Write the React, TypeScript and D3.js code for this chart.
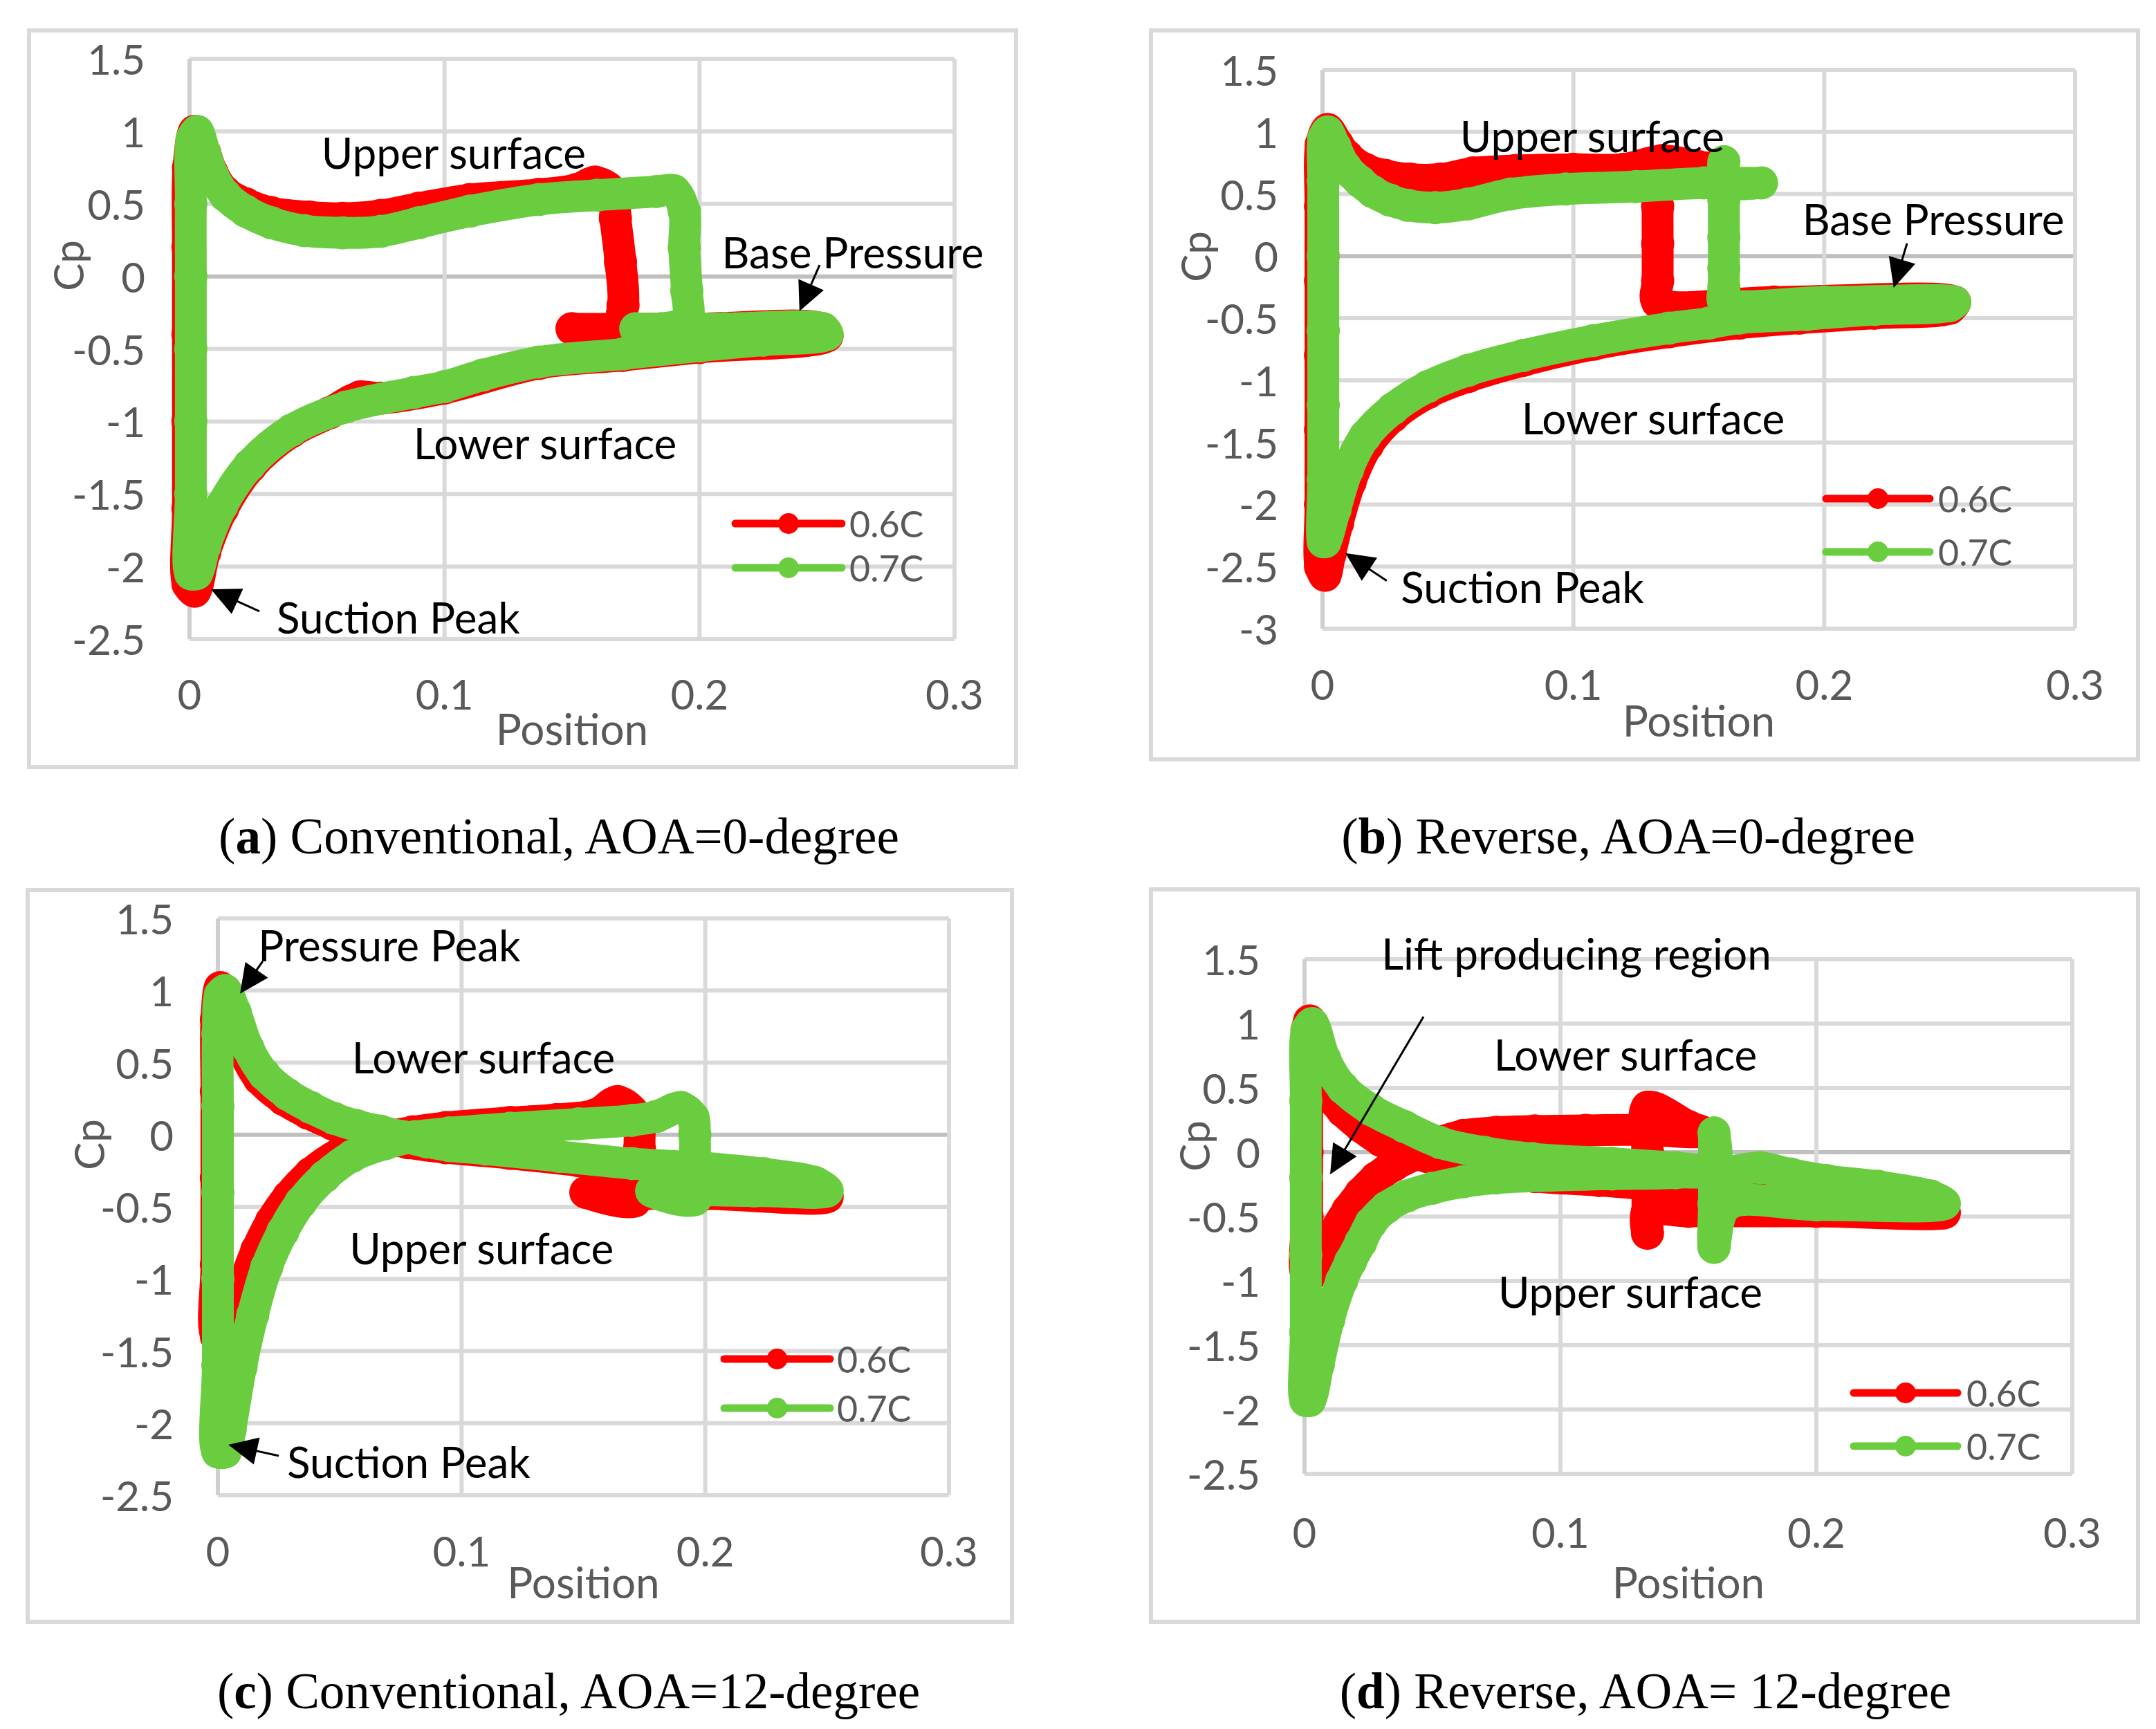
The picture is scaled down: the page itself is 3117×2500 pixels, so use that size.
import React from "react";
import * as d3 from "d3";

type Pt = [number, number];

const xTicks = [0, 0.1, 0.2, 0.3];
const yTicksShort = [1.5, 1, 0.5, 0, -0.5, -1, -1.5, -2, -2.5];
const yTicksLong = [1.5, 1, 0.5, 0, -0.5, -1, -1.5, -2, -2.5, -3];
const seriesNames = ["0.6C", "0.7C"];

// (a) conventional, AOA 0
const redA: Pt[] = [
  [-0.0006, -2.12], [-0.0006, -1.6], [-0.0006, -1.0], [-0.0006, -0.4], [-0.0006, 0.2], [-0.0004, 0.75],
  [0.002, 1.0], [0.006, 0.85], [0.009, 0.71], [0.014, 0.58], [0.022, 0.5], [0.032, 0.44],
  [0.047, 0.41], [0.06, 0.4], [0.075, 0.42], [0.09, 0.47], [0.11, 0.53], [0.137, 0.565],
  [0.152, 0.6], [0.159, 0.65], [0.166, 0.58], [0.167, 0.4], [0.169, 0.1], [0.17, -0.2],
  [0.167, -0.35], [0.15, -0.36], [0.2, -0.36], [0.248, -0.36], [0.25, -0.41], [0.2, -0.49],
  [0.17, -0.545], [0.137, -0.6], [0.1, -0.77], [0.075, -0.84], [0.067, -0.83], [0.055, -0.94],
  [0.04, -1.07], [0.024, -1.31], [0.013, -1.6], [0.006, -1.9], [0.002, -2.17],
];
const greenA: Pt[] = [
  [0.0005, -2.05], [0.0005, -1.5], [0.0005, -1.0], [0.0005, -0.5], [0.0005, 0], [0.0005, 0.5],
  [0.001, 0.95], [0.003, 1.0], [0.006, 0.85], [0.009, 0.7], [0.014, 0.56], [0.022, 0.45],
  [0.032, 0.37], [0.045, 0.315], [0.06, 0.3], [0.075, 0.31], [0.09, 0.37], [0.11, 0.45],
  [0.137, 0.53], [0.16, 0.56], [0.183, 0.585], [0.19, 0.59], [0.194, 0.45], [0.194, 0.2],
  [0.195, -0.1], [0.195, -0.3], [0.185, -0.36], [0.175, -0.36], [0.21, -0.36], [0.2485, -0.36],
  [0.25, -0.4], [0.225, -0.44], [0.2, -0.48], [0.17, -0.535], [0.137, -0.59], [0.115, -0.68],
  [0.1, -0.76], [0.088, -0.8], [0.0615, -0.9], [0.04, -1.06], [0.0236, -1.3], [0.0127, -1.58],
  [0.006, -1.86], [0.0027, -2.05],
];

// (b) reverse, AOA 0
const redB: Pt[] = [
  [-0.0008, -2.5], [-0.0008, -2.0], [-0.0008, -1.4], [-0.0008, -0.8], [-0.0008, -0.2], [-0.0008, 0.4],
  [-0.0005, 0.9], [0.002, 1.02], [0.006, 0.9], [0.01, 0.8], [0.017, 0.7], [0.025, 0.65],
  [0.035, 0.62], [0.047, 0.62], [0.06, 0.67], [0.077, 0.69], [0.1, 0.7], [0.12, 0.7],
  [0.1355, 0.77], [0.15, 0.72], [0.155, 0.71], [0.134, 0.7], [0.1336, 0.4], [0.1336, 0.1],
  [0.1336, -0.2], [0.1336, -0.37], [0.18, -0.37], [0.252, -0.37], [0.25, -0.42], [0.22, -0.46],
  [0.19, -0.5], [0.166, -0.54], [0.138, -0.61], [0.108, -0.71], [0.08, -0.84], [0.058, -0.97],
  [0.042, -1.1], [0.028, -1.29], [0.018, -1.52], [0.011, -1.82], [0.006, -2.15], [0.003, -2.4],
  [0.001, -2.57],
];
const greenB: Pt[] = [
  [0.0003, -2.3], [0.0003, -1.8], [0.0003, -1.2], [0.0003, -0.6], [0.0003, 0], [0.0003, 0.6],
  [0.0005, 0.95], [0.002, 1.0], [0.005, 0.88], [0.009, 0.72], [0.015, 0.6], [0.02, 0.52],
  [0.027, 0.45], [0.034, 0.41], [0.045, 0.39], [0.058, 0.42], [0.075, 0.5], [0.097, 0.54],
  [0.125, 0.56], [0.152, 0.59], [0.175, 0.59], [0.16, 0.6], [0.16, 0.76], [0.16, 0.45],
  [0.16, 0.15], [0.16, -0.1], [0.16, -0.25], [0.16, -0.37], [0.2, -0.37], [0.252, -0.37],
  [0.25, -0.4], [0.22, -0.43], [0.193, -0.47], [0.166, -0.5], [0.154, -0.54], [0.138, -0.58],
  [0.108, -0.68], [0.08, -0.8], [0.058, -0.92], [0.042, -1.05], [0.028, -1.23], [0.017, -1.45],
  [0.01, -1.72], [0.005, -2.04], [0.001, -2.3],
];

// (c) conventional, AOA 12
const redC: Pt[] = [
  [-0.0006, -1.4], [-0.0006, -0.9], [-0.0006, -0.3], [-0.0006, 0.3], [-0.0006, 0.8], [0.001, 1.02],
  [0.0055, 0.82], [0.0105, 0.58], [0.017, 0.39], [0.027, 0.245], [0.037, 0.15], [0.047, 0.075],
  [0.057, 0.02], [0.067, -0.02], [0.078, -0.055], [0.0935, -0.09], [0.12, -0.13], [0.148, -0.18],
  [0.175, -0.23], [0.2, -0.27], [0.224, -0.31], [0.245, -0.37], [0.25, -0.43], [0.2, -0.41],
  [0.16, -0.41], [0.151, -0.4], [0.171, -0.46], [0.173, -0.3], [0.173, -0.1], [0.172, 0.12],
  [0.164, 0.23], [0.155, 0.14], [0.139, 0.106], [0.12, 0.085], [0.0935, 0.05], [0.08, 0.02],
  [0.065, -0.03], [0.05, -0.13], [0.038, -0.27], [0.029, -0.43], [0.022, -0.6], [0.016, -0.8],
  [0.0105, -1.05], [0.0065, -1.3], [0.0035, -1.45],
];
const greenC: Pt[] = [
  [0, -2.2], [0, -1.6], [0, -1.0], [0, -0.4], [0, 0.2], [0, 0.7], [0.001, 0.97], [0.003, 1.0],
  [0.0071, 0.85], [0.0124, 0.6], [0.019, 0.42], [0.0286, 0.28], [0.038, 0.19], [0.0476, 0.114],
  [0.057, 0.063], [0.0667, 0.025], [0.076, -0.013], [0.0857, -0.05], [0.095, -0.076], [0.11, -0.1],
  [0.14, -0.15], [0.17, -0.2], [0.2, -0.23], [0.224, -0.27], [0.245, -0.33], [0.25, -0.39],
  [0.22, -0.39], [0.178, -0.39], [0.1957, -0.45], [0.1957, -0.2], [0.1957, 0.0], [0.195, 0.12],
  [0.19, 0.19], [0.18, 0.127], [0.17, 0.1], [0.148, 0.075], [0.12, 0.045], [0.095, 0.013],
  [0.081, -0.013], [0.0686, -0.063], [0.055, -0.15], [0.0438, -0.29], [0.034, -0.47], [0.0267, -0.67],
  [0.02, -0.92], [0.0143, -1.25], [0.0095, -1.61], [0.005, -2.05], [0.003, -2.2],
];

// (d) reverse, AOA 12
const redD: Pt[] = [
  [0.001, -0.95], [0.001, -0.5], [0.001, 0.0], [0.001, 0.5], [0.001, 0.95], [0.002, 1.02],
  [0.004, 0.85], [0.006, 0.65], [0.0098, 0.45], [0.015, 0.32], [0.022, 0.2], [0.03, 0.09],
  [0.042, 0.0], [0.055, -0.08], [0.07, -0.14], [0.09, -0.19], [0.115, -0.22], [0.134, -0.25],
  [0.16, -0.27], [0.2, -0.3], [0.23, -0.36], [0.25, -0.47], [0.2, -0.46], [0.15, -0.46],
  [0.134, -0.46], [0.134, -0.63], [0.134, -0.3], [0.134, 0.0], [0.134, 0.35], [0.15, 0.2],
  [0.155, 0.16], [0.13, 0.175], [0.11, 0.17], [0.09, 0.165], [0.075, 0.155], [0.062, 0.13],
  [0.052, 0.07], [0.043, -0.02], [0.035, -0.1], [0.028, -0.2], [0.022, -0.32], [0.017, -0.45],
  [0.0115, -0.63], [0.008, -0.78], [0.005, -0.92],
];
const greenD: Pt[] = [
  [0.0005, -1.93], [0.0005, -1.4], [0.0005, -0.8], [0.0005, -0.2], [0.0005, 0.4], [0.001, 0.95],
  [0.003, 1.0], [0.008, 0.72], [0.015, 0.5], [0.026, 0.33], [0.039, 0.2], [0.053, 0.075],
  [0.07, 0.0], [0.089, -0.05], [0.12, -0.086], [0.145, -0.12], [0.165, -0.15], [0.178, -0.12],
  [0.19, -0.17], [0.204, -0.22], [0.224, -0.265], [0.2446, -0.34], [0.25, -0.4], [0.2, -0.41],
  [0.165, -0.41], [0.16, -0.74], [0.16, -0.4], [0.16, -0.1], [0.16, 0.15], [0.16, -0.12],
  [0.145, -0.16], [0.12, -0.17], [0.075, -0.2], [0.062, -0.23], [0.05, -0.28], [0.04, -0.34],
  [0.032, -0.43], [0.026, -0.55], [0.022, -0.7], [0.018, -0.85], [0.0145, -1.0], [0.0095, -1.3],
  [0.0054, -1.65], [0.002, -1.93],
];

const captionLetters = ["a", "b", "c", "d"];
const captionTexts = [
  "Conventional, AOA=0-degree",
  "Reverse, AOA=0-degree",
  "Conventional, AOA=12-degree",
  "Reverse, AOA= 12-degree",
];

type Note = { text: string; at: Pt; anchor: "start" | "middle" };
type Arrow = { from: Pt; to: Pt };

type PanelCfg = {
  frame: [number, number, number, number];
  plot: [number, number, number, number];
  yTicks: number[];
  red: Pt[];
  green: Pt[];
  xLabelY: number;
  posY: number;
  cp: [number, number];
  legend: { x1: number; x2: number; yR: number; yG: number; tx: number };
  caption: { x: number; y: number; letter: string; text: string };
  notes: Note[];
  arrows: Arrow[];
};

const RED = "#ff0000";
const GREEN = "#6acd40";
const GRID = "#d9d9d9";
const AXIS_GRAY = "#595959";
const SANS = "Lato, 'Noto Sans', sans-serif";
const SERIF = "'Liberation Serif', 'DejaVu Serif', serif";
const BAND = 46;

const panels: PanelCfg[] = [
  {
    frame: [42, 44, 1469, 1109],
    plot: [274, 85, 1380, 924],
    yTicks: yTicksShort,
    red: redA,
    green: greenA,
    xLabelY: 1003,
    posY: 1053,
    cp: [98, 384],
    legend: { x1: 1063, x2: 1217, yR: 757, yG: 821, tx: 1228 },
    caption: { x: 808, y: 1234, letter: captionLetters[0], text: captionTexts[0] },
    notes: [
      { text: "Upper surface", at: [0.1036, 0.856], anchor: "middle" },
      { text: "Base Pressure", at: [0.2601, 0.17], anchor: "middle" },
      { text: "Lower surface", at: [0.1394, -1.146], anchor: "middle" },
      { text: "Suction Peak", at: [0.0342, -2.347], anchor: "start" },
    ],
    arrows: [
      { from: [0.2471, 0.079], to: [0.2392, -0.24] },
      { from: [0.0274, -2.309], to: [0.0084, -2.157] },
    ],
  },
  {
    frame: [1664, 44, 3091, 1098],
    plot: [1912, 101, 3000, 909],
    yTicks: yTicksLong,
    red: redB,
    green: greenB,
    xLabelY: 989,
    posY: 1041,
    cp: [1728, 371],
    legend: { x1: 2640, x2: 2790, yR: 721, yG: 798, tx: 2802 },
    caption: { x: 2354, y: 1234, letter: captionLetters[1], text: captionTexts[1] },
    notes: [
      { text: "Upper surface", at: [0.1075, 0.971], anchor: "middle" },
      { text: "Base Pressure", at: [0.2435, 0.303], anchor: "middle" },
      { text: "Lower surface", at: [0.1318, -1.3], anchor: "middle" },
      { text: "Suction Peak", at: [0.0312, -2.659], anchor: "start" },
    ],
    arrows: [
      { from: [0.233, 0.102], to: [0.2277, -0.254] },
      { from: [0.0256, -2.615], to: [0.0091, -2.392] },
    ],
  },
  {
    frame: [40, 1287, 1463, 2345],
    plot: [315, 1328, 1372, 2162],
    yTicks: yTicksShort,
    red: redC,
    green: greenC,
    xLabelY: 2242,
    posY: 2287,
    cp: [128, 1655],
    legend: { x1: 1047, x2: 1200, yR: 1965, yG: 2036, tx: 1210 },
    caption: { x: 822, y: 2470, letter: captionLetters[2], text: captionTexts[2] },
    notes: [
      { text: "Pressure Peak", at: [0.0165, 1.318], anchor: "start" },
      { text: "Lower surface", at: [0.109, 0.541], anchor: "middle" },
      { text: "Upper surface", at: [0.1082, -0.783], anchor: "middle" },
      { text: "Suction Peak", at: [0.0284, -2.265], anchor: "start" },
    ],
    arrows: [
      { from: [0.0184, 1.203], to: [0.0091, 0.978] },
      { from: [0.025, -2.227], to: [0.0043, -2.15] },
    ],
  },
  {
    frame: [1664, 1286, 3091, 2345],
    plot: [1886, 1387, 2996, 2131],
    yTicks: yTicksShort,
    red: redD,
    green: greenD,
    xLabelY: 2215,
    posY: 2287,
    cp: [1726, 1657],
    legend: { x1: 2680, x2: 2830, yR: 2014, yG: 2091, tx: 2843 },
    caption: { x: 2379, y: 2470, letter: captionLetters[3], text: captionTexts[3] },
    notes: [
      { text: "Lift producing region", at: [0.1062, 1.548], anchor: "middle" },
      { text: "Lower surface", at: [0.1254, 0.763], anchor: "middle" },
      { text: "Upper surface", at: [0.1273, -1.08], anchor: "middle" },
    ],
    arrows: [{ from: [0.0465, 1.054], to: [0.01, -0.172] }],
  },
];

function Panel({ cfg }: { cfg: PanelCfg }) {
  const [pl, pt, pr, pb] = cfg.plot;
  const x = d3.scaleLinear().domain([0, 0.3]).range([pl, pr]);
  const y = d3
    .scaleLinear()
    .domain([cfg.yTicks[0], cfg.yTicks[cfg.yTicks.length - 1]])
    .range([pt, pb]);
  const line = d3
    .line<Pt>()
    .x((d) => x(d[0]))
    .y((d) => y(d[1]))
    .curve(d3.curveCatmullRomClosed.alpha(0.5));

  const [fx0, fy0, fx1, fy1] = cfg.frame;
  const lg = cfg.legend;
  const lgMid = (lg.x1 + lg.x2) / 2;

  const drawSeries = (pts: Pt[], color: string) => (
    <g>
      <path
        d={line(pts) || ""}
        fill="none"
        stroke={color}
        strokeWidth={BAND}
        strokeLinejoin="round"
        strokeLinecap="round"
      />
      {pts.map((p, i) => (
        <circle key={i} cx={x(p[0])} cy={y(p[1])} r={BAND / 2 + 1} fill={color} />
      ))}
    </g>
  );

  return (
    <g>
      <rect
        x={fx0}
        y={fy0}
        width={fx1 - fx0}
        height={fy1 - fy0}
        fill="#fff"
        stroke={GRID}
        strokeWidth={6}
      />
      {cfg.yTicks.map((t) => (
        <line
          key={"h" + t}
          x1={pl}
          x2={pr}
          y1={y(t)}
          y2={y(t)}
          stroke={t === 0 ? "#bfbfbf" : GRID}
          strokeWidth={6}
        />
      ))}
      {xTicks.map((t) => (
        <line
          key={"v" + t}
          x1={x(t)}
          x2={x(t)}
          y1={pt}
          y2={pb}
          stroke={t === 0 ? "#cfcfcf" : GRID}
          strokeWidth={6}
        />
      ))}
      {cfg.yTicks.map((t) => (
        <text
          key={"yl" + t}
          x={pl - 64}
          y={y(t)}
          textAnchor="end"
          dominantBaseline="central"
          fontFamily={SANS}
          fontSize={60}
          fill={AXIS_GRAY}
        >
          {String(t)}
        </text>
      ))}
      {xTicks.map((t) => (
        <text
          key={"xl" + t}
          x={x(t)}
          y={cfg.xLabelY}
          textAnchor="middle"
          dominantBaseline="central"
          fontFamily={SANS}
          fontSize={60}
          fill={AXIS_GRAY}
        >
          {String(t)}
        </text>
      ))}
      <text
        x={(pl + pr) / 2}
        y={cfg.posY}
        textAnchor="middle"
        dominantBaseline="central"
        fontFamily={SANS}
        fontSize={62}
        fill={AXIS_GRAY}
      >
        Position
      </text>
      <text
        transform={`translate(${cfg.cp[0]},${cfg.cp[1]}) rotate(-90)`}
        textAnchor="middle"
        dominantBaseline="central"
        fontFamily={SANS}
        fontSize={60}
        fill={AXIS_GRAY}
      >
        Cp
      </text>

      {drawSeries(cfg.red, RED)}
      {drawSeries(cfg.green, GREEN)}

      {cfg.notes.map((n) => (
        <text
          key={n.text}
          x={x(n.at[0])}
          y={y(n.at[1])}
          textAnchor={n.anchor}
          dominantBaseline="central"
          fontFamily={SANS}
          fontSize={62}
          fill="#000"
        >
          {n.text}
        </text>
      ))}
      {cfg.arrows.map((a, i) => {
        const x1 = x(a.from[0]);
        const y1 = y(a.from[1]);
        const x2 = x(a.to[0]);
        const y2 = y(a.to[1]);
        const len = Math.hypot(x2 - x1, y2 - y1);
        const ux = (x2 - x1) / len;
        const uy = (y2 - y1) / len;
        const L = 42;
        const W = 20;
        const bx = x2 - ux * L;
        const by = y2 - uy * L;
        const head = `M${x2},${y2}L${bx - uy * W},${by + ux * W}L${bx + uy * W},${by - ux * W}Z`;
        return (
          <g key={"a" + i}>
            <line x1={x1} y1={y1} x2={bx + ux * 10} y2={by + uy * 10} stroke="#000" strokeWidth={3} />
            <path d={head} fill="#000" />
          </g>
        );
      })}

      {[
        { c: RED, yy: lg.yR, name: seriesNames[0] },
        { c: GREEN, yy: lg.yG, name: seriesNames[1] },
      ].map((s) => (
        <g key={s.name}>
          <line
            x1={lg.x1}
            x2={lg.x2}
            y1={s.yy}
            y2={s.yy}
            stroke={s.c}
            strokeWidth={11}
            strokeLinecap="round"
          />
          <circle cx={lgMid} cy={s.yy} r={15} fill={s.c} />
          <text
            x={lg.tx}
            y={s.yy}
            dominantBaseline="central"
            fontFamily={SANS}
            fontSize={52}
            fill={AXIS_GRAY}
          >
            {s.name}
          </text>
        </g>
      ))}

      <text
        x={cfg.caption.x}
        y={cfg.caption.y}
        textAnchor="middle"
        fontFamily={SERIF}
        fontSize={73}
        fill="#000"
      >
        <tspan>(</tspan>
        <tspan fontWeight="bold">{cfg.caption.letter}</tspan>
        <tspan>{") " + cfg.caption.text}</tspan>
      </text>
    </g>
  );
}

export default function App() {
  return (
    <svg
      width={3117}
      height={2500}
      viewBox="0 0 3117 2500"
      style={{ position: "absolute", left: 0, top: 0, background: "#fff" }}
    >
      <rect x={0} y={0} width={3117} height={2500} fill="#fff" />
      {panels.map((p, i) => (
        <Panel key={i} cfg={p} />
      ))}
    </svg>
  );
}
